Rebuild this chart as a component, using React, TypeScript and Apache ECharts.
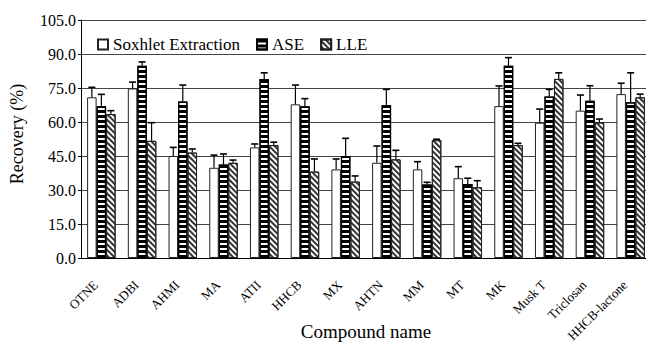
import React, { useEffect, useRef } from "react";
import * as echarts from "echarts";

// Recovery (%) of musk compounds and triclosan by three extraction methods
const categories = [
  "OTNE", "ADBI", "AHMI", "MA", "ATII", "HHCB", "MX",
  "AHTN", "MM", "MT", "MK", "Musk T", "Triclosan", "HHCB-lactone",
];

const soxhlet = [70.9, 74.8, 45.0, 39.8, 48.8, 67.8, 39.1, 42.0, 39.1, 35.2, 67.0, 59.7, 65.0, 72.3];
const soxhletErr = [4.4, 2.8, 3.8, 5.6, 1.5, 8.5, 4.6, 7.4, 3.4, 5.1, 8.9, 6.0, 6.9, 4.8];

const ase = [67.0, 84.8, 69.0, 41.3, 79.0, 67.0, 45.0, 67.4, 32.4, 32.6, 84.8, 71.2, 69.4, 68.7];
const aseErr = [5.2, 1.7, 7.3, 4.6, 2.7, 3.3, 7.8, 7.0, 1.0, 2.6, 3.6, 3.2, 6.6, 13.0];

const lle = [63.5, 51.7, 46.5, 42.0, 49.8, 38.1, 33.7, 43.5, 52.0, 31.2, 49.8, 79.0, 59.8, 70.9];
const lleErr = [1.5, 8.0, 1.6, 1.2, 1.3, 5.6, 2.5, 4.0, 0.4, 2.9, 0.8, 2.7, 1.5, 1.4];

const yTicks = { min: 0, max: 105, interval: 15 };

const SERIF = "Liberation Serif";
const BAR_W = 9.5;

export default function App() {
  const ref = useRef<HTMLDivElement>(null);

  useEffect(() => {
    document.body.style.margin = "0";
    const chart = echarts.init(ref.current!, null, { renderer: "svg" });

    const groups = [
      {
        name: "Soxhlet Extraction",
        values: soxhlet,
        errors: soxhletErr,
        itemStyle: { color: "#ffffff", borderColor: "#222", borderWidth: 1 },
      },
      {
        name: "ASE",
        values: ase,
        errors: aseErr,
        itemStyle: {
          color: "#ffffff",
          borderColor: "#000",
          borderWidth: 1.2,
          decal: {
            symbol: "rect",
            symbolSize: 1,
            color: "#000",
            dashArrayX: [1, 0],
            dashArrayY: [2.5, 1.5],
            rotation: 0,
          },
        },
      },
      {
        name: "LLE",
        values: lle,
        errors: lleErr,
        itemStyle: {
          color: "#ffffff",
          borderColor: "#222",
          borderWidth: 1,
          decal: {
            symbol: "rect",
            symbolSize: 1,
            color: "#333",
            dashArrayX: [1, 0],
            dashArrayY: [1.2, 1.8],
            rotation: Math.PI / 4,
          },
        },
      },
    ];

    const barSeries = groups.map((g) => ({
      type: "bar",
      name: g.name,
      data: g.values,
      barWidth: BAR_W,
      barGap: "0%",
      itemStyle: g.itemStyle,
      z: 2,
    }));

    // Upper error whiskers, placed over the matching bar of each group
    const errorSeries = groups.map((g, gi) => ({
      type: "custom",
      name: g.name + " SD",
      silent: true,
      z: 3,
      encode: { x: 0, y: [1, 2] },
      data: g.values.map((v, i) => [i, v, v + g.errors[i]]),
      renderItem: (_params: any, api: any) => {
        const i = api.value(0);
        const lo = api.coord([i, api.value(1)]);
        const hi = api.coord([i, api.value(2)]);
        const x = lo[0] + (gi - 1) * BAR_W;
        return {
          type: "group",
          children: [
            {
              type: "line",
              shape: { x1: x, y1: lo[1], x2: x, y2: hi[1] },
              style: { stroke: "#000", lineWidth: 1.2 },
            },
            {
              type: "line",
              shape: { x1: x - 3.5, y1: hi[1], x2: x + 3.5, y2: hi[1] },
              style: { stroke: "#000", lineWidth: 1.6 },
            },
          ],
        };
      },
    }));

    chart.setOption({
      animation: false,
      backgroundColor: "#ffffff",
      textStyle: { fontFamily: SERIF, color: "#000" },
      grid: {
        left: 81,
        top: 20,
        right: -5,
        bottom: 86,
        containLabel: false,
        outerBoundsMode: "none",
      },
      legend: {
        data: groups.map((g) => g.name),
        left: 92,
        top: 31,
        icon: "rect",
        itemWidth: 10,
        itemHeight: 10,
        itemGap: 16,
        textStyle: { fontFamily: SERIF, fontSize: 17, color: "#000" },
      },
      xAxis: {
        type: "category",
        data: categories,
        name: "Compound name",
        nameLocation: "middle",
        nameGap: 64,
        nameMoveOverlap: false,
        nameTextStyle: { fontFamily: SERIF, fontSize: 19, color: "#000" },
        axisLine: { lineStyle: { color: "#000", width: 1 } },
        axisTick: { inside: true, length: 4, lineStyle: { color: "#000" } },
        axisLabel: {
          interval: 0,
          rotate: 45,
          margin: 19,
          padding: [0, 8, 0, 0],
          fontFamily: SERIF,
          fontSize: 13,
          color: "#000",
        },
        splitLine: { show: false },
      },
      yAxis: {
        type: "value",
        min: yTicks.min,
        max: yTicks.max,
        interval: yTicks.interval,
        name: "Recovery (%)",
        nameLocation: "middle",
        nameGap: 55,
        nameMoveOverlap: false,
        nameTextStyle: {
          fontFamily: SERIF,
          fontSize: 18,
          color: "#000",
          padding: [0, 0, 0, 10],
        },
        axisLine: { show: true, lineStyle: { color: "#000", width: 1 } },
        axisTick: { show: true, length: 3, lineStyle: { color: "#000" } },
        axisLabel: {
          formatter: (v: number) => v.toFixed(1),
          margin: 5,
          fontFamily: SERIF,
          fontSize: 16,
          color: "#000",
        },
        splitLine: { lineStyle: { color: "#444", width: 1 } },
      },
      series: [...barSeries, ...errorSeries],
    });

    return () => chart.dispose();
  }, []);

  return <div ref={ref} style={{ width: 646, height: 344 }} />;
}
